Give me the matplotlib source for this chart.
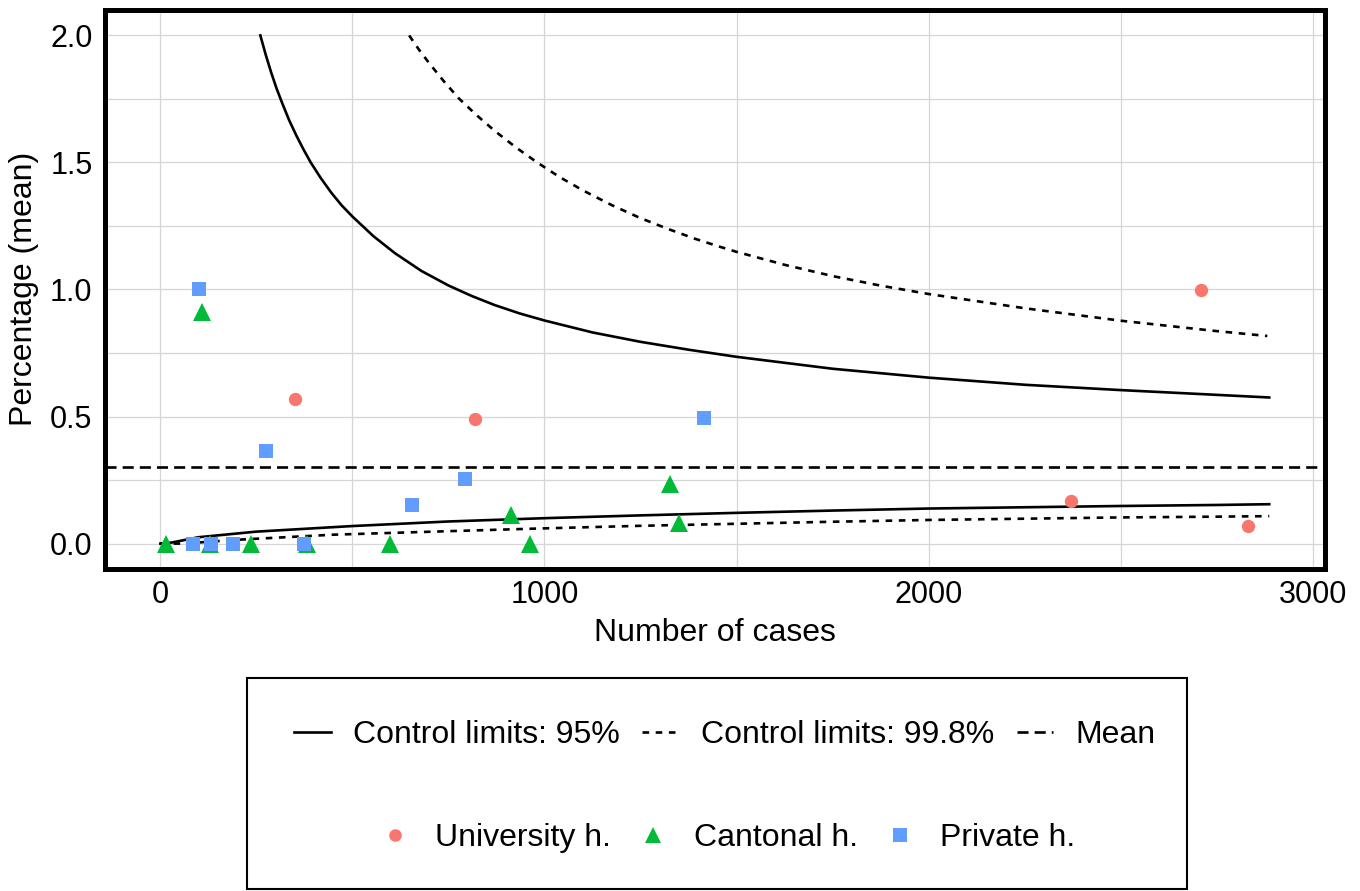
import matplotlib
matplotlib.use("Agg")
import matplotlib.pyplot as plt
from matplotlib.lines import Line2D
from matplotlib.patches import Rectangle
from matplotlib.ticker import FixedLocator, FormatStrFormatter

plt.rcParams['font.family'] = ['Liberation Sans', 'DejaVu Sans']

# ---------------- data ----------------
univ_n = [352, 819, 2369, 2707, 2831]
univ_pct = [0.571, 0.489, 0.168, 0.998, 0.070]

cant_n = [16, 110, 130, 237, 383, 598, 912, 963, 1326, 1350]
cant_pct = [0.0, 0.913, 0.0, 0.0, 0.0, 0.0, 0.113, 0.0, 0.233, 0.080]

priv_n = [85, 101, 133, 189, 275, 375, 655, 792, 1415]
priv_pct = [0.0, 1.0, 0.0, 0.0, 0.364, 0.0, 0.152, 0.254, 0.494]

mean_pct = 0.30

up95_n = [261, 275, 289, 303, 318, 336, 355, 373, 392, 418, 445, 472, 500,
          555, 611, 680, 750, 810, 870, 935, 1000, 1125, 1250, 1375, 1500,
          1750, 2000, 2250, 2500, 2740, 2885]
up95_pct = [2.0, 1.924, 1.855, 1.792, 1.733, 1.666, 1.605, 1.552, 1.50,
            1.439, 1.382, 1.332, 1.288, 1.210, 1.143, 1.073, 1.016, 0.975,
            0.939, 0.906, 0.878, 0.831, 0.794, 0.763, 0.735, 0.688, 0.653,
            0.625, 0.604, 0.586, 0.575]

up998_n = [648, 674, 700, 738, 776, 822, 870, 925, 981, 1040, 1100, 1175,
           1248, 1320, 1391, 1450, 1500, 1625, 1752, 1875, 2000, 2250, 2500,
           2737, 2880]
up998_pct = [2.0, 1.943, 1.891, 1.820, 1.754, 1.688, 1.625, 1.560, 1.50,
             1.442, 1.390, 1.332, 1.282, 1.239, 1.200, 1.171, 1.148, 1.097,
             1.052, 1.015, 0.982, 0.926, 0.877, 0.838, 0.817]

low95_n = [1, 30, 100, 250, 500, 750, 1000, 1250, 1500, 1750, 2000, 2250,
           2500, 2750, 2885]
low95_pct = [0.0, 0.004, 0.025, 0.047, 0.069, 0.087, 0.100, 0.111, 0.121,
             0.130, 0.138, 0.143, 0.148, 0.152, 0.155]

low998_n = [1, 60, 200, 450, 710, 1000, 1250, 1500, 1750, 2000, 2250, 2500,
            2750, 2885]
low998_pct = [0.0, 0.0, 0.015, 0.035, 0.047, 0.060, 0.070, 0.078, 0.086,
              0.093, 0.098, 0.103, 0.106, 0.108]

x_major = [0, 1000, 2000, 3000]
x_minor = [500, 1500, 2500]
y_major = [0.0, 0.5, 1.0, 1.5, 2.0]
y_minor = [0.25, 0.75, 1.25, 1.75]

series_labels = ["University h.", "Cantonal h.", "Private h."]
line_labels = ["Control limits: 95%", "Control limits: 99.8%", "Mean"]

# ---------------- styles ----------------
RED, GREEN, BLUE = "#F8766D", "#00BA38", "#619CFF"
LW = 1.9
DOT = (0, (2.5, 2.5))
DASH = (0, (4.2, 2.3))

W, H = 1360, 891
fig = plt.figure(figsize=(W / 100, H / 100), dpi=100)
ax = fig.add_axes([105 / W, 1 - 569 / H, 1220 / W, 559 / H])

ax.set_xlim(-143, 3030)
ax.set_ylim(-0.1, 2.1)

ax.xaxis.set_major_locator(FixedLocator(x_major))
ax.xaxis.set_minor_locator(FixedLocator(x_minor))
ax.yaxis.set_major_locator(FixedLocator(y_major))
ax.yaxis.set_minor_locator(FixedLocator(y_minor))
ax.yaxis.set_major_formatter(FormatStrFormatter('%.1f'))
ax.grid(which='both', color='#d6d6d6', lw=0.9, zorder=0)
ax.set_axisbelow(True)
ax.tick_params(which='both', length=0)
ax.tick_params(axis='both', labelsize=22)
ax.tick_params(axis='x', pad=8)
ax.tick_params(axis='y', pad=9)
for s in ax.spines.values():
    s.set_linewidth(3.6)
    s.set_color('black')

# lines
ax.plot(up95_n, up95_pct, color='black', lw=LW, ls='-', zorder=2)
ax.plot(low95_n, low95_pct, color='black', lw=LW, ls='-', zorder=2)
ax.plot(up998_n, up998_pct, color='black', lw=LW, ls=DOT, zorder=2)
ax.plot(low998_n, low998_pct, color='black', lw=LW, ls=DOT, zorder=2)
ax.axhline(mean_pct, color='black', lw=LW, ls=DASH, zorder=2)

# points
ax.plot(univ_n, univ_pct, ls='none', marker='o', ms=9.6, color=RED,
        markeredgewidth=0, zorder=3)
ax.plot(cant_n, cant_pct, ls='none', marker='^', ms=12.5, color=GREEN,
        markeredgewidth=0, zorder=3)
ax.plot(priv_n, priv_pct, ls='none', marker='s', ms=10, color=BLUE,
        markeredgewidth=0, zorder=3)

# axis titles
fig.text(715 / W, 1 - 633 / H, "Number of cases", ha='center', va='center',
         fontsize=23)
fig.text(24 / W, 1 - 289 / H, "Percentage (mean)", ha='center', va='center',
         rotation=90, fontsize=23)

# legend
h1 = [Line2D([], [], color='black', lw=LW, ls='-'),
      Line2D([], [], color='black', lw=LW, ls=DOT),
      Line2D([], [], color='black', lw=LW, ls=DASH)]
leg1 = fig.legend(h1, line_labels, loc='center',
                  bbox_to_anchor=(725 / W, 1 - 735 / H), ncol=3,
                  frameon=False, fontsize=23, handlelength=1.15,
                  handletextpad=0.69, columnspacing=0.7)
h2 = [Line2D([], [], ls='none', marker='o', ms=9, color=RED, markeredgewidth=0),
      Line2D([], [], ls='none', marker='^', ms=11, color=GREEN, markeredgewidth=0),
      Line2D([], [], ls='none', marker='s', ms=9.5, color=BLUE, markeredgewidth=0)]
leg2 = fig.legend(h2, series_labels, loc='center',
                  bbox_to_anchor=(726 / W, 1 - 838 / H), ncol=3,
                  frameon=False, fontsize=23, handlelength=1.15,
                  handletextpad=0.69, columnspacing=0.75)
fig.add_artist(Rectangle((247 / W, 1 - 889 / H), 940 / W, 211 / H,
                         transform=fig.transFigure, fill=False,
                         edgecolor='black', lw=1.5))

fig.savefig("out.png", dpi=100)
